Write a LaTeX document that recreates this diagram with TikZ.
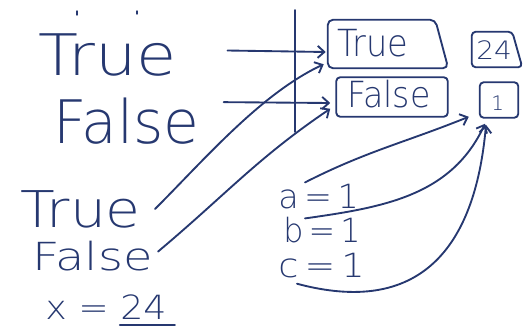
\documentclass[tikz,border=0pt]{standalone}
\usepackage{fontspec}
\newfontfamily\handfont{DejaVu Sans ExtraLight}
\usetikzlibrary{arrows.meta}
\definecolor{ink}{RGB}{38,56,112}
\begin{document}
\begin{tikzpicture}[x=0.75pt,y=0.75pt,
  hand/.style={font=\handfont, text=ink, inner sep=0pt, anchor=base west},
  pen/.style={draw=ink, line width=1.4pt, line cap=round, line join=round},
  arr/.style={pen, -{Straight Barb[length=5pt,width=9pt]}},
  cell/.style={inner sep=0pt, draw=none},
  boxed/.style={pen, rounded corners=3pt}]
\useasboundingbox (0,0) rectangle (525,-328);

% names on the left
\node[hand, font=\handfont\fontsize{43}{43}\selectfont, xscale=1.14] (t1) at (38,-75) {True};
\node[hand, font=\handfont\fontsize{45}{45}\selectfont, xscale=0.97] (f1) at (53,-143) {False};
\node[hand, font=\handfont\fontsize{38}{38}\selectfont, xscale=1.12] (bt) at (20,-227) {True};
\node[hand, font=\handfont\fontsize{29}{29}\selectfont, xscale=1.24] (bf) at (32,-270) {False};
\node[hand, font=\handfont\fontsize{25}{25}\selectfont, xscale=1.09] (xe) at (45,-319) {x = 24};
\node[hand, font=\handfont\fontsize{25}{25}\selectfont, xscale=1.0] (a1) at (278,-208) {a\,=\,1};
\node[hand, font=\handfont\fontsize{25}{25}\selectfont, xscale=0.95] (b1) at (283,-242) {b\,=\,1};
\node[hand, font=\handfont\fontsize{25}{25}\selectfont, xscale=1.1] (c1) at (278,-277) {c\,=\,1};

% stray pen marks above the first name
\draw[pen, line width=1.1pt] (77,-11) -- (77,-15);
\draw[pen, line width=1.1pt] (137,-11) -- (137,-14);

% separator between names and objects
\coordinate (vt) at (295,-10);
\coordinate (vb) at (295,-132);
\draw[pen] (vt) -- (vb);

% object cells
\node[cell, minimum width=90pt, minimum height=36pt] (tbox) at (388,-44) {};
\node[cell, minimum width=37.5pt, minimum height=26.25pt] (b24) at (497,-49.5) {};
\node[cell, minimum width=83.25pt, minimum height=29.25pt] (fbox) at (392,-97) {};
\node[cell, minimum width=28.5pt, minimum height=26.25pt] (onebox) at (499,-100) {};

\draw[boxed, rounded corners=4pt] (tbox.south west) -- (tbox.north west)
  -- ([shift={(-13,0)}]tbox.north east) -- (tbox.south east) -- cycle;
\draw[boxed] (b24.south west) -- (b24.north west)
  -- ([shift={(-10,0)}]b24.north east) -- (b24.south east) -- cycle;
\draw[boxed] (fbox.south west) rectangle (fbox.north east);
\draw[boxed] (onebox.south west) rectangle (onebox.north east);

\node[hand, font=\handfont\fontsize{28}{28}\selectfont, xscale=0.9] (tl) at (337,-57) {True};
\node[hand, font=\handfont\fontsize{27}{27}\selectfont, xscale=0.92] (fl) at (347,-108) {False};
\node[hand, font=\handfont\fontsize{19}{19}\selectfont, xscale=1.1] (n24) at (476,-60) {24};
\node[hand, font=\handfont\fontsize{15}{15}\selectfont] (n1) at (491,-110) {1};

% references
\draw[arr] ([shift={(50,4)}]t1.east) -- ([shift={(-2,-8)}]tbox.west);
\draw[arr] ([shift={(24,-5)}]f1.north east) -- ([shift={(-6,-6)}]fbox.west);
\draw[arr] ([shift={(14,0)}]bt.east) to[out=45,in=205,looseness=0.8] ([shift={(-4,4)}]tbox.south west);
\draw[arr] ([shift={(5,4)}]bf.east) to[out=40,in=214] ([shift={(-6,8)}]fbox.south west);
\draw[arr] ([shift={(27,1)}]a1.north west) to[out=27,in=202] ([shift={(-11,1)}]onebox.south west);
\draw[arr] ([shift={(22,-2)}]b1.north west) to[out=8,in=245] ([shift={(-14,-6)}]onebox.south);
\draw[arr] ([shift={(19,-6)}]c1.south west) to[out=-15,in=265,looseness=1.3] ([shift={(-13,-7)}]onebox.south);

% underline under the value
\draw[pen] ([shift={(-47,-6)}]xe.base east) -- ([shift={(8,-6)}]xe.base east);
\end{tikzpicture}
\end{document}
